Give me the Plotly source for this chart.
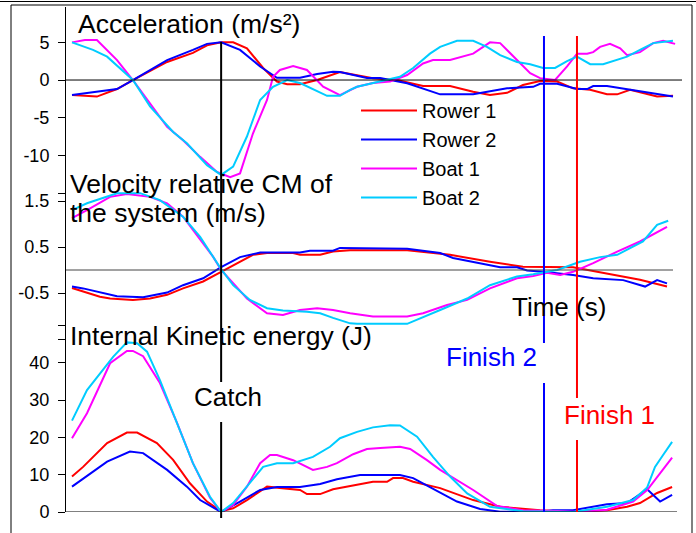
import plotly.graph_objects as go

# ---------------- data (time in s) ----------------
# Acceleration (m/s^2)
acc_r1_t = [0, 0.083, 0.15, 0.203, 0.317, 0.403, 0.45, 0.497, 0.537, 0.583, 0.637,
            0.683, 0.717, 0.76, 0.817, 0.87, 0.893, 1.003, 1.083, 1.17, 1.26,
            1.337, 1.393, 1.45, 1.503, 1.56, 1.617, 1.67, 1.727, 1.783, 1.817,
            1.86, 1.95, 2.003]
acc_r1 = [-2.0, -2.2, -1.2, 0, 2.4, 3.6, 4.6, 5.0, 5.0, 4.2, 1.6,
          -0.2, -0.55, -0.55, 0, 0.8, 1.05, 0.25, 0, -0.8, -0.8,
          -1.55, -2.0, -1.7, -0.66, -0.13, -0.2, -1.1, -1.3, -1.9, -1.9,
          -1.3, -2.2, -2.1]

acc_r2_t = [0, 0.093, 0.15, 0.203, 0.317, 0.403, 0.45, 0.497, 0.56, 0.627,
            0.683, 0.76, 0.817, 0.87, 0.893, 0.983, 1.027, 1.117, 1.227, 1.337,
            1.45, 1.537, 1.56, 1.617, 1.683, 1.717, 1.737, 1.783, 1.893, 2.003]
acc_r2 = [-2.0, -1.55, -1.2, 0, 2.65, 4.0, 4.8, 5.0, 4.0, 1.8,
          0.3, 0.3, 0.8, 1.1, 1.05, 0.27, 0.27, -0.44, -1.9, -1.9,
          -1.1, -0.9, -0.5, -0.5, -1.2, -1.2, -0.8, -0.8, -1.55, -2.2]

acc_b1_t = [0, 0.043, 0.083, 0.15, 0.203, 0.26, 0.317, 0.37, 0.427, 0.483,
            0.527, 0.56, 0.603, 0.65, 0.67, 0.693, 0.737, 0.783, 0.837, 0.893,
            0.927, 0.95, 1.003, 1.06, 1.117, 1.17, 1.203, 1.26, 1.337, 1.393,
            1.427, 1.483, 1.527, 1.56, 1.61, 1.65, 1.683, 1.717, 1.737, 1.76,
            1.793, 1.827, 1.85, 1.893, 1.937, 1.97, 2.01]
acc_b1 = [5.0, 5.3, 5.3, 2.65, 0, -3.1, -6.2, -8.0, -10.2, -12.2,
          -12.9, -12.4, -7.1, -2.65, 0.44, 1.33, 1.86, 1.33, -0.88, -2.0,
          -1.33, -0.9, -0.4, -0.2, 0.66, 2.2, 2.65, 2.65, 3.5, 5.0,
          4.9, 2.65, 0.9, 0.25, 0, 1.8, 3.5, 3.5, 3.7, 4.4,
          4.8, 4.2, 3.3, 3.7, 4.9, 5.2, 4.8]

acc_b2_t = [0, 0.07, 0.117, 0.16, 0.203, 0.26, 0.337, 0.383, 0.45, 0.497,
            0.537, 0.583, 0.627, 0.67, 0.717, 0.76, 0.85, 0.893, 0.927, 0.95,
            1.003, 1.093, 1.137, 1.193, 1.227, 1.283, 1.337, 1.383, 1.427, 1.483,
            1.527, 1.57, 1.61, 1.65, 1.683, 1.727, 1.77, 1.85, 1.893, 1.937, 2.003]
acc_b2 = [5.0, 4.0, 3.1, 1.6, 0, -3.5, -6.9, -8.4, -11.3, -12.6,
          -11.5, -7.5, -2.65, -0.9, 0, -0.4, -2.1, -2.1, -1.3, -0.9,
          -0.44, 0.44, 1.6, 3.5, 4.4, 5.2, 5.2, 4.4, 3.3, 2.4,
          2.1, 1.6, 1.6, 2.5, 3.1, 2.1, 2.1, 3.1, 4.0, 4.9, 5.2]

# Velocity relative CM of the system (m/s)
vel_r1_t = [0, 0.093, 0.127, 0.203, 0.26, 0.317, 0.37, 0.437, 0.497, 0.537,
            0.603, 0.65, 0.737, 0.76, 0.827, 0.87, 0.927, 1.117, 1.26, 1.393,
            1.503, 1.67, 1.783, 1.893, 1.983]
vel_r1 = [-0.39, -0.58, -0.62, -0.65, -0.62, -0.54, -0.40, -0.25, -0.04, 0.1,
          0.33, 0.37, 0.37, 0.33, 0.33, 0.4, 0.43, 0.43, 0.33, 0.18,
          0.07, 0.06, -0.07, -0.21, -0.36]

vel_r2_t = [0, 0.037, 0.15, 0.237, 0.317, 0.37, 0.437, 0.497, 0.56, 0.627,
            0.76, 0.793, 0.87, 0.893, 1.117, 1.227, 1.27, 1.337, 1.427, 1.483,
            1.517, 1.57, 1.67, 1.737, 1.837, 1.91, 1.95, 1.983]
vel_r2 = [-0.36, -0.4, -0.57, -0.59, -0.49, -0.33, -0.18, 0.06, 0.28, 0.38,
          0.38, 0.42, 0.42, 0.48, 0.46, 0.37, 0.26, 0.18, 0.06, 0.06,
          -0.01, -0.04, -0.11, -0.18, -0.22, -0.36, -0.22, -0.29]

vel_b1_t = [0, 0.05, 0.127, 0.183, 0.26, 0.317, 0.37, 0.427, 0.47, 0.497,
            0.537, 0.583, 0.65, 0.703, 0.76, 0.817, 0.87, 0.927, 1.003, 1.117,
            1.17, 1.25, 1.317, 1.393, 1.483, 1.537, 1.583, 1.627, 1.67, 1.737,
            1.817, 1.893, 1.983]
vel_b1 = [1.13, 1.3, 1.59, 1.65, 1.59, 1.45, 1.16, 0.65, 0.29, 0,
          -0.29, -0.62, -0.94, -0.98, -0.87, -0.83, -0.87, -0.94, -1.01, -1.01,
          -0.94, -0.76, -0.65, -0.40, -0.18, -0.13, -0.06, -0.11, -0.04, 0.15,
          0.40, 0.62, 0.94]

vel_b2_t = [0, 0.05, 0.15, 0.227, 0.293, 0.37, 0.427, 0.47, 0.497, 0.537,
            0.593, 0.65, 0.703, 0.783, 0.827, 0.87, 0.927, 0.95, 1.117, 1.227,
            1.317, 1.393, 1.483, 1.537, 1.617, 1.693, 1.76, 1.817, 1.903, 1.95, 1.987]
vel_b2 = [1.3, 1.45, 1.67, 1.67, 1.52, 1.16, 0.72, 0.29, 0.02, -0.33,
          -0.65, -0.83, -0.88, -0.91, -0.94, -1.04, -1.16, -1.17, -1.17, -0.87,
          -0.62, -0.33, -0.14, -0.09, 0, 0.18, 0.28, 0.33, 0.62, 0.98, 1.07]

# Internal kinetic energy (J)
ke_r1_t = [0, 0.037, 0.117, 0.183, 0.217, 0.283, 0.337, 0.393, 0.45, 0.497,
           0.537, 0.583, 0.65, 0.703, 0.76, 0.783, 0.827, 0.87, 0.927, 1.003,
           1.05, 1.07, 1.103, 1.137, 1.227, 1.337, 1.427, 1.56, 1.67, 1.783,
           1.85, 1.893, 1.95, 2.0]
ke_r1 = [9.5, 12.1, 18.5, 21.3, 21.3, 18.5, 14, 7.7, 2.8, 0.2,
         1, 3.2, 6.8, 6.4, 5.9, 4.8, 4.8, 6.1, 7.0, 8.1,
         8.1, 9.1, 9.1, 8.1, 6.4, 3.2, 1.4, 0.5, 0, 0.5,
         1.4, 2.4, 5.1, 6.7]

ke_r2_t = [0, 0.07, 0.117, 0.193, 0.237, 0.317, 0.383, 0.427, 0.497, 0.56,
           0.627, 0.683, 0.76, 0.827, 0.883, 0.96, 1.093, 1.137, 1.227, 1.283,
           1.36, 1.427, 1.56, 1.603, 1.67, 1.783, 1.85, 1.917, 1.96, 2.0]
ke_r2 = [6.8, 10.8, 13.5, 16.2, 15.8, 11.3, 6.8, 3.2, 0, 2.8,
         5.9, 6.7, 6.7, 7.5, 8.8, 9.9, 9.9, 9.1, 5.1, 2.8,
         0.8, 0.1, 0.1, 0.5, 0.5, 2.1, 2.4, 6.1, 2.8, 4.6]

ke_b1_t = [0, 0.05, 0.127, 0.183, 0.203, 0.237, 0.293, 0.35, 0.403, 0.46,
           0.497, 0.537, 0.583, 0.627, 0.66, 0.683, 0.737, 0.803, 0.85, 0.883,
           0.937, 0.983, 1.027, 1.093, 1.127, 1.183, 1.227, 1.337, 1.417, 1.503,
           1.617, 1.693, 1.783, 1.87, 1.917, 1.96, 2.0]
ke_b1 = [19.8, 26.5, 39.9, 43.2, 43.2, 41.8, 34.6, 23.9, 13.1, 3.8,
         0, 1.9, 6.8, 13.1, 15.3, 15.3, 13.9, 11.3, 12.1, 13.1,
         15.5, 16.9, 17.2, 17.5, 16.9, 13.9, 11.3, 5.9, 1.6, 0.5,
         0.3, 0, 0.6, 2.8, 5.9, 10.4, 14.6]

ke_b2_t = [0, 0.05, 0.137, 0.183, 0.217, 0.25, 0.293, 0.35, 0.403, 0.46,
           0.497, 0.537, 0.593, 0.637, 0.683, 0.737, 0.803, 0.86, 0.893, 0.95,
           1.003, 1.06, 1.093, 1.15, 1.203, 1.26, 1.317, 1.393, 1.503, 1.67,
           1.783, 1.87, 1.917, 1.943, 1.97, 2.0]
ke_b2 = [24.5, 32.7, 41.6, 45.5, 45.3, 43, 35.4, 23.9, 13.1, 4.1,
         0, 2.4, 7.7, 12.1, 13.1, 13.1, 14.8, 17.5, 19.8, 21.5,
         22.7, 23.3, 23.2, 20.2, 14.8, 9.5, 5.0, 1.4, 0.2, 0,
         1.4, 3.2, 6.6, 12.1, 15.3, 18.8]

series_names = ["Rower 1", "Rower 2", "Boat 1", "Boat 2"]
series_colors = ["#FF0000", "#0000FF", "#FF00FF", "#00CCFF"]

CATCH_T = 0.497
FINISH2_T = 1.573
FINISH1_T = 1.683

acc_ticks = [-10, -5, 0, 5]
acc_ticktext = ["-10", "-5", "0", "5"]
acc_minor = [-15]
vel_ticks = [-0.5, 0.5, 1.5]
vel_ticktext = ["-0.5", "0.5", "1.5"]
vel_minor = [-1.5]
ke_ticks = [0, 10, 20, 30, 40]
ke_ticktext = ["0", "10", "20", "30", "40"]
ke_minor = [50]

# ---------------- layout geometry (pixels) ----------------
W, H = 696, 533
L, RX = 66, 682
TOP, BOT = 7, 512


def fx(p):
    return (p - L) / (RX - L)


def fy(p):
    return (BOT - p) / (BOT - TOP)


FONT = "Arial, 'Liberation Sans', Helvetica, sans-serif"

fig = go.Figure()

panels = [
    ("y", [(acc_r1_t, acc_r1), (acc_r2_t, acc_r2), (acc_b1_t, acc_b1), (acc_b2_t, acc_b2)]),
    ("y2", [(vel_r1_t, vel_r1), (vel_r2_t, vel_r2), (vel_b1_t, vel_b1), (vel_b2_t, vel_b2)]),
    ("y3", [(ke_r1_t, ke_r1), (ke_r2_t, ke_r2), (ke_b1_t, ke_b1), (ke_b2_t, ke_b2)]),
]
for pi, (yax, data) in enumerate(panels):
    for si, (t, v) in enumerate(data):
        fig.add_trace(go.Scatter(
            x=t, y=v, mode="lines", yaxis=yax, xaxis="x",
            name=series_names[si], legendgroup=series_names[si],
            showlegend=(pi == 0),
            line=dict(color=series_colors[si], width=2),
            hoverinfo="skip"))


def yaxis_def(domain, rng, ticks, ticktext, minor):
    return dict(domain=domain, range=rng, showline=True, linecolor="black", linewidth=1,
                ticks="outside", ticklen=7, tickcolor="black", showgrid=False,
                zeroline=False, tickfont=dict(family=FONT, size=18, color="black"),
                anchor="x", tickmode="array", tickvals=ticks, ticktext=ticktext,
                ticklabelstandoff=5,
                minor=dict(tickmode="array", tickvals=minor, ticks="outside", ticklen=7,
                           tickcolor="black", showgrid=False))


fig.update_layout(
    width=W, height=H,
    margin=dict(l=L, r=W - RX, t=TOP, b=H - BOT, pad=0),
    paper_bgcolor="white", plot_bgcolor="rgba(0,0,0,0)",
    font=dict(family=FONT, color="black"),
    xaxis=dict(domain=[0, 1], range=[-0.02, 2.033], showline=False, showgrid=False,
               zeroline=False, showticklabels=False, ticks="", anchor="y3"),
    yaxis=yaxis_def([fy(193), 1], [-15, (80 - TOP) / 7.53], acc_ticks, acc_ticktext, acc_minor),
    yaxis2=yaxis_def([fy(339), fy(178)], [-1.5, 2.0], vel_ticks, vel_ticktext, vel_minor),
    yaxis3=yaxis_def([0, fy(325.6)], [0, 50], ke_ticks, ke_ticktext, ke_minor),
    showlegend=True,
    legend=dict(x=fx(356), y=fy(91), xanchor="left", yanchor="top",
                bgcolor="rgba(0,0,0,0)", borderwidth=0, itemwidth=56,
                font=dict(family=FONT, size=20, color="black"),
                tracegroupgap=0),
)

shapes = []
# zero lines / bottom axis line
shapes.append(dict(type="line", xref="paper", yref="y", x0=0, x1=1, y0=0, y1=0,
                   line=dict(color="black", width=1)))
shapes.append(dict(type="line", xref="paper", yref="y2", x0=0, x1=fx(673), y0=0, y1=0,
                   line=dict(color="#444444", width=1)))
shapes.append(dict(type="line", xref="paper", yref="y3", x0=0, x1=fx(677), y0=0, y1=0,
                   line=dict(color="black", width=1)))


def vseg(t, p0, p1, color):
    shapes.append(dict(type="line", xref="x", yref="paper", x0=t, x1=t,
                       y0=fy(p0), y1=fy(p1), line=dict(color=color, width=2)))


vseg(CATCH_T, 42, 382, "black")
vseg(CATCH_T, 422, 518, "black")
vseg(FINISH2_T, 36, 343, "#0000FF")
vseg(FINISH2_T, 383, 512, "#0000FF")
vseg(FINISH1_T, 36, 398, "#FF0000")
vseg(FINISH1_T, 440, 512, "#FF0000")

# outer frame
frame = dict(color="black", width=1)
shapes.append(dict(type="line", xref="paper", yref="paper", x0=fx(0), x1=fx(696),
                   y0=fy(1.5), y1=fy(1.5), line=frame))
shapes.append(dict(type="line", xref="paper", yref="paper", x0=fx(11), x1=fx(692),
                   y0=fy(5), y1=fy(5), line=frame))
shapes.append(dict(type="line", xref="paper", yref="paper", x0=fx(11), x1=fx(11),
                   y0=fy(5), y1=fy(533), line=frame))
shapes.append(dict(type="line", xref="paper", yref="paper", x0=fx(692), x1=fx(692),
                   y0=fy(5), y1=fy(533), line=frame))
fig.update_layout(shapes=shapes)


def label(text, xp, yp, color="black", size=26.5, xanchor="left"):
    fig.add_annotation(text=text, x=fx(xp), y=fy(yp), xref="paper", yref="paper",
                       xanchor=xanchor, yanchor="middle", showarrow=False,
                       font=dict(family=FONT, size=size, color=color))


label("Acceleration (m/s\u00b2)", 76, 24)
label("Velocity relative CM of", 68, 184)
label("the system (m/s)", 68, 213)
label("Internal Kinetic energy (J)", 68, 336)
label("Time (s)", 510, 307, size=26)
label("Catch", 227.5, 397, size=26, xanchor="center")
label("Finish 2", 491.5, 357, color="#0000FF", size=26, xanchor="center")
label("Finish 1", 609, 415, color="#FF0000", size=26, xanchor="center")

fig.write_html("out.html", config={"displayModeBar": False},
               post_script="document.body.style.margin='0px';")
